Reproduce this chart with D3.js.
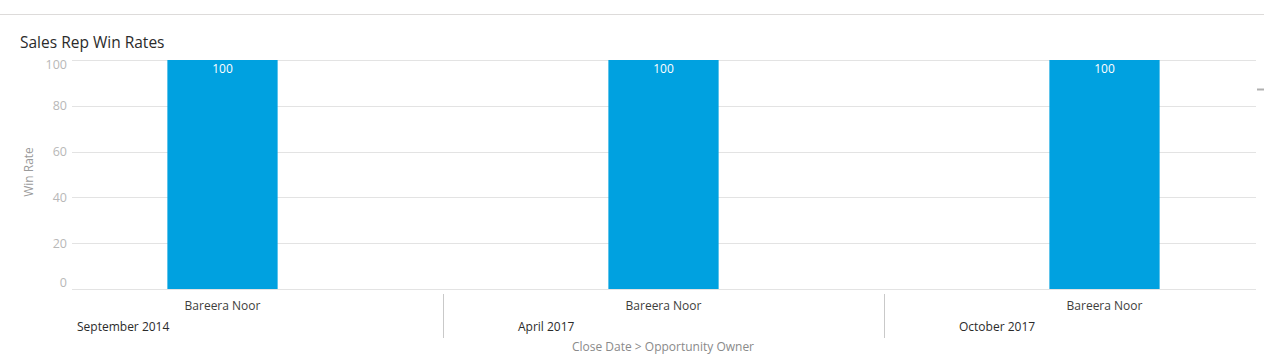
<!DOCTYPE html>
<html><head><meta charset="utf-8">
<script src="https://cdn.jsdelivr.net/npm/d3@7"></script>
<style>body{margin:0;background:#fff;}svg{display:block;font-family:"Open Sans",sans-serif;}</style>
</head><body>
<svg id="c" width="1264" height="362"></svg>
<script>
const dates = ["September 2014", "April 2017", "October 2017"];
const owners = ["Bareera Noor", "Bareera Noor", "Bareera Noor"];
const winRates = [100, 100, 100];
const yTicks = [0, 20, 40, 60, 80, 100];

const svg = d3.select("#c");
const W = 1264, H = 362;
const plotLeft = 72, plotRight = 1256, plotTop = 60, plotBottom = 289;

svg.append("line").attr("x1",0).attr("x2",W).attr("y1",14.5).attr("y2",14.5).attr("stroke","#dddbda");
svg.append("line").attr("x1",1257).attr("x2",1264).attr("y1",89.5).attr("y2",89.5).attr("stroke","#b0b0b0").attr("stroke-width",2);

svg.append("text").attr("x",20).attr("y",48).attr("font-size",15.5)
  .style("fill","#2b2b2b").text("Sales Rep Win Rates");

const y = d3.scaleLinear().domain([0,100]).range([plotBottom, plotTop]);
const x = d3.scaleBand().domain(d3.range(dates.length)).range([2, 1325]).padding(0);

const g = svg.append("g");
g.selectAll("line.grid").data(yTicks).join("line")
  .attr("x1",plotLeft).attr("x2",plotRight)
  .attr("y1",d=>Math.round(y(d))+0.5).attr("y2",d=>Math.round(y(d))+0.5)
  .attr("stroke","#e3e3e3");
g.selectAll("text.yt").data(yTicks).join("text")
  .attr("x",67).attr("text-anchor","end")
  .attr("y",d=>y(d) + (d===100?5:d===0?-6:0))
  .attr("dy","0.35em").attr("font-size",12.5).attr("fill","#b8b8b8").text(d=>d);

svg.append("text").attr("transform","translate(33,172) rotate(-90)")
  .attr("text-anchor","middle").attr("font-size",12).attr("fill","#9a9a9a").text("Win Rate");

const barW = x.bandwidth()*0.25;
const data = dates.map((d,i)=>({i, date:d, owner:owners[i], v:winRates[i]}));
svg.selectAll("rect.bar").data(data).join("rect")
  .attr("x",d=>x(d.i)+x.bandwidth()/2-barW/2).attr("width",barW)
  .attr("y",d=>y(d.v)).attr("height",d=>y(0)-y(d.v)).attr("fill","#00a1e0");
svg.selectAll("text.val").data(data).join("text")
  .attr("x",d=>x(d.i)+x.bandwidth()/2).attr("y",d=>y(d.v)+13)
  .attr("text-anchor","middle").attr("font-size",12).attr("fill","#fff").text(d=>d.v);

svg.selectAll("text.own").data(data).join("text")
  .attr("x",d=>x(d.i)+x.bandwidth()/2).attr("y",310)
  .attr("text-anchor","middle").attr("font-size",12).attr("fill","#3e3e3c").text(d=>d.owner);
svg.selectAll("text.dt").data(data).join("text")
  .attr("x",d=>x(d.i)+75).attr("y",331)
  .attr("font-size",12).attr("fill","#2b2b2b").text(d=>d.date);
svg.selectAll("line.sep").data(data.slice(1)).join("line")
  .attr("x1",d=>Math.round(x(d.i))+0.5).attr("x2",d=>Math.round(x(d.i))+0.5)
  .attr("y1",294).attr("y2",338).attr("stroke","#c9c9c9");

svg.append("text").attr("x",663).attr("y",351).attr("text-anchor","middle")
  .attr("font-size",12).attr("fill","#8a8a8a").text("Close Date > Opportunity Owner");
</script>
</body></html>
